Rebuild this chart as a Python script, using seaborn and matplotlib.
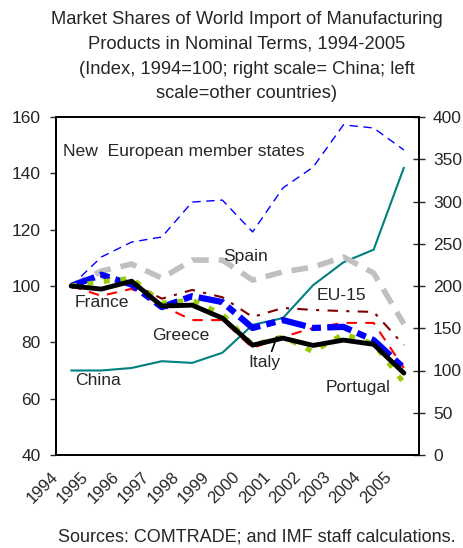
import numpy as np
import pandas as pd
import seaborn as sns
from matplotlib import pyplot as plt

years = ['1994', '1995', '1996', '1997', '1998', '1999',
         '2000', '2001', '2002', '2003', '2004', '2005']
nem = [100, 110.3, 115.6, 117.4, 129.8, 130.5, 119.2, 134.8, 142.2, 157.2, 156.1, 148.3]
spain = [100, 105.3, 107.8, 102.8, 109.2, 109.2, 102.1, 105.0, 106.7, 110.3, 104.6, 86.5]
france = [100, 104.0, 100.5, 92.5, 96.4, 94.3, 85.1, 87.9, 85.1, 85.5, 80.8, 70.9]
greece = [100, 96.5, 99.0, 93.0, 87.9, 87.9, 78.0, 81.9, 85.1, 86.9, 86.9, 70.9]
italy = [100, 98.9, 101.7, 92.9, 93.2, 88.6, 79.0, 81.5, 78.9, 80.8, 79.3, 69.1]
portugal = [100, 101.5, 102.8, 94.0, 95.0, 90.0, 79.0, 82.0, 76.6, 83.0, 79.5, 65.6]
eu15 = [100, 103.5, 101.0, 95.5, 98.6, 96.0, 89.0, 92.2, 91.5, 91.1, 90.8, 79.0]
china = [100, 100, 103, 111, 109, 121, 154, 162, 201, 228, 243, 340]

sns.set_style('white')
plt.rcParams['font.family'] = ['Liberation Sans', 'DejaVu Sans']

x = np.arange(len(years))
df = pd.DataFrame({'pos': x, 'NEM': nem, 'Spain': spain, 'France': france,
                   'Greece': greece, 'Italy': italy, 'Portugal': portugal,
                   'EU-15': eu15, 'China': china})

fig = plt.figure(figsize=(4.64, 5.48), dpi=100)
ax = fig.add_axes([56 / 464, 93 / 548, 363 / 464, 338 / 548])
ax2 = ax.twinx()

# china on right scale
sns.lineplot(data=df, x='pos', y='China', ax=ax2, color='#008080', lw=1.5)

sns.lineplot(data=df, x='pos', y='NEM', ax=ax, color='blue', lw=1)
ax.lines[-1].set_dashes([6, 4])
sns.lineplot(data=df, x='pos', y='Spain', ax=ax, color='#c0c0c0', lw=4)
ax.lines[-1].set_dashes([3, 1.8])
sns.lineplot(data=df, x='pos', y='EU-15', ax=ax, color='#800000', lw=1.5)
ax.lines[-1].set_dashes([5, 4, 1.5, 4])
sns.lineplot(data=df, x='pos', y='Greece', ax=ax, color='red', lw=1.5)
ax.lines[-1].set_dashes([5, 4])
sns.lineplot(data=df, x='pos', y='France', ax=ax, color='blue', lw=4.5)
ax.lines[-1].set_dashes([4, 1, 1.5, 1])
sns.lineplot(data=df, x='pos', y='Portugal', ax=ax, color='#99cc00', lw=3.5)
ax.lines[-1].set_dashes([1.2, 2.2])
sns.lineplot(data=df, x='pos', y='Italy', ax=ax, color='black', lw=3.5)

ax.set_zorder(ax2.get_zorder() + 1)
ax.patch.set_visible(False)

ax.set_xlim(-0.5, 11.5)
ax.set_ylim(40, 160)
ax2.set_ylim(0, 400)
ax.set_yticks(np.arange(40, 161, 20))
ax2.set_yticks(np.arange(0, 401, 50))
ax.set_xticks(np.arange(-0.5, 12, 1))
ax.set_xticklabels(years + [''], rotation=45, ha='right', va='center',
                   rotation_mode='anchor')
ax.set_xlabel('')
ax.set_ylabel('')
ax2.set_ylabel('')

for a in (ax, ax2):
    for s in a.spines.values():
        s.set_color('black')
        s.set_linewidth(1.3)
ax.tick_params(axis='x', direction='in', length=4, width=1, pad=14, labelsize=12)
ax.tick_params(axis='y', direction='out', length=4, width=1, labelsize=12.5, pad=7)
ax2.tick_params(axis='y', direction='inout', length=8, width=1, labelsize=12.5, pad=6)

fs = 12.6
ax.text(-0.27, 147.6, 'New  European member states', fontsize=fs, va='center')
ax.text(5.78, 110.3, 'Spain', fontsize=fs, ha='center', va='center')
ax.text(0.13, 94, 'France', fontsize=fs, va='center')
ax.text(2.67, 82.6, 'Greece', fontsize=fs, va='center')
ax.text(8.1, 96.5, 'EU-15', fontsize=fs, va='center')
ax.text(0.13, 66.6, 'China', fontsize=fs, va='center')
ax.text(8.4, 64, 'Portugal', fontsize=fs, va='center')
ax.annotate('Italy', xy=(6.8, 81.9), xytext=(5.85, 73), fontsize=fs, va='center',
            arrowprops=dict(arrowstyle='-', color='black', lw=1.2,
                            shrinkA=0, shrinkB=0, relpos=(0.7, 1)))

fig.text(0.532, 1 - 11 / 548,
         'Market Shares of World Import of Manufacturing\n'
         'Products in Nominal Terms, 1994-2005\n'
         '(Index, 1994=100; right scale= China; left\n'
         'scale=other countries)',
         ha='center', va='top', fontsize=13.2, linespacing=1.6)
fig.text(257 / 464, 1 - 537 / 548, 'Sources: COMTRADE; and IMF staff calculations.',
         ha='center', va='center', fontsize=13)

fig.savefig('out.png', dpi=100)
